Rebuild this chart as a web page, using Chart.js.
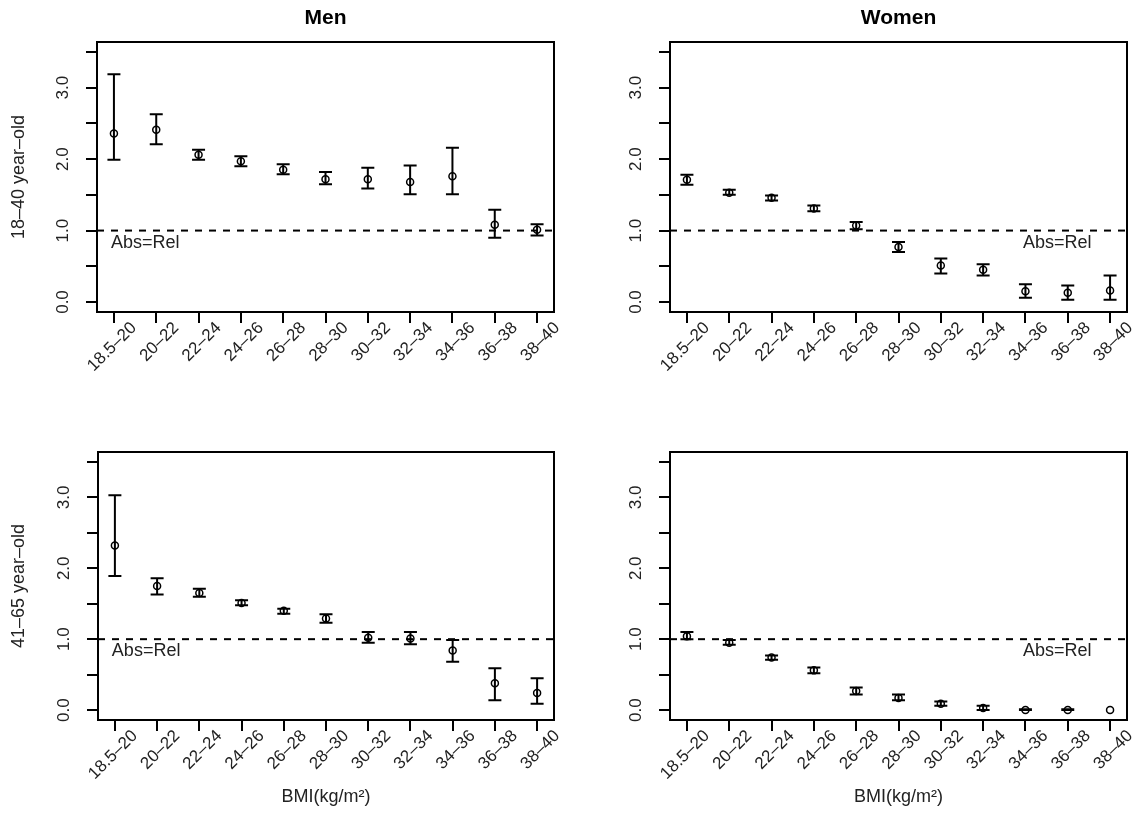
<!DOCTYPE html>
<html>
<head>
<meta charset="utf-8">
<script src="https://cdn.jsdelivr.net/npm/chart.js@4.4.1/dist/chart.umd.min.js"></script>
<style>
    html, body { margin: 0; padding: 0; background: #fff; }
    #wrap { position: relative; width: 1138px; height: 813px; overflow: hidden; }
    .panel { position: absolute; }
</style>
</head>
<body>
<div id="wrap">
    <div class="panel" style="left:0;top:0"><canvas id="menYoung" width="569" height="406"></canvas></div>
    <div class="panel" style="left:569px;top:0"><canvas id="womenYoung" width="569" height="406"></canvas></div>
    <div class="panel" style="left:0;top:406px"><canvas id="menOld" width="569" height="407"></canvas></div>
    <div class="panel" style="left:569px;top:406px"><canvas id="womenOld" width="569" height="407"></canvas></div>
</div>
<script>
// BMI groups on the x axis
const bmiGroups = ['18.5–20', '20–22', '22–24', '24–26', '26–28', '28–30', '30–32', '32–34', '34–36', '36–38', '38–40'];

// y axis ticks (labels only on whole numbers)
const yTickValues = [0, 0.5, 1, 1.5, 2, 2.5, 3, 3.5];
const yTickLabels = ['0.0', '', '1.0', '', '2.0', '', '3.0', ''];

// Men, 18–40 year-old
const menYoungRatio = [2.36, 2.41, 2.06, 1.97, 1.85, 1.72, 1.72, 1.68, 1.76, 1.08, 1.01];
const menYoungLower = [1.99, 2.21, 1.99, 1.90, 1.79, 1.65, 1.59, 1.51, 1.51, 0.90, 0.93];
const menYoungUpper = [3.19, 2.63, 2.13, 2.04, 1.93, 1.82, 1.88, 1.91, 2.16, 1.29, 1.09];

// Women, 18–40 year-old
const womenYoungRatio = [1.71, 1.53, 1.46, 1.31, 1.07, 0.77, 0.51, 0.45, 0.15, 0.13, 0.16];
const womenYoungLower = [1.64, 1.50, 1.42, 1.27, 1.02, 0.70, 0.40, 0.37, 0.06, 0.03, 0.03];
const womenYoungUpper = [1.78, 1.57, 1.49, 1.35, 1.12, 0.84, 0.61, 0.53, 0.25, 0.23, 0.37];

// Men, 41–65 year-old
const menOldRatio = [2.32, 1.75, 1.65, 1.51, 1.40, 1.29, 1.02, 1.01, 0.84, 0.38, 0.24];
const menOldLower = [1.89, 1.63, 1.60, 1.48, 1.36, 1.23, 0.95, 0.93, 0.68, 0.14, 0.09];
const menOldUpper = [3.03, 1.86, 1.71, 1.55, 1.43, 1.35, 1.10, 1.10, 0.99, 0.59, 0.45];

// Women, 41–65 year-old
const womenOldRatio = [1.04, 0.95, 0.74, 0.56, 0.27, 0.17, 0.09, 0.03, 0.00, 0.00, 0.00];
const womenOldLower = [1.00, 0.92, 0.71, 0.52, 0.22, 0.14, 0.06, 0.00, 0.00, 0.00, 0.00];
const womenOldUpper = [1.10, 0.99, 0.77, 0.60, 0.32, 0.22, 0.12, 0.06, 0.01, 0.01, 0.00];

const FONT = 'Liberation Sans, Arial, Helvetica, sans-serif';
const INK = '#000';
const TEXT = '#222';

Chart.defaults.font.family = FONT;
Chart.defaults.color = TEXT;

// Vertical error bars with caps
const errorBars = {
    id: 'errorBars',
    afterDatasetsDraw(chart, args, opts) {
        const { ctx, scales: { x, y } } = chart;
        ctx.save();
        ctx.strokeStyle = INK;
        ctx.lineWidth = 2;
        opts.lower.forEach((lo, i) => {
            const hi = opts.upper[i];
            if (hi <= lo) return;
            const px = x.getPixelForValue(i + 1);
            const pLo = y.getPixelForValue(lo);
            const pHi = y.getPixelForValue(hi);
            ctx.beginPath();
            ctx.moveTo(px, pLo); ctx.lineTo(px, pHi);
            ctx.moveTo(px - 6.5, pLo); ctx.lineTo(px + 6.5, pLo);
            ctx.moveTo(px - 6.5, pHi); ctx.lineTo(px + 6.5, pHi);
            ctx.stroke();
        });
        ctx.restore();
    }
};

// Dashed Abs=Rel reference line and its label
const refLine = {
    id: 'refLine',
    beforeDatasetsDraw(chart, args, opts) {
        const { ctx, chartArea, scales: { x, y } } = chart;
        const py = y.getPixelForValue(opts.value);
        ctx.save();
        ctx.strokeStyle = INK;
        ctx.lineWidth = 2;
        ctx.setLineDash([7, 7]);
        ctx.beginPath();
        ctx.moveTo(chartArea.left, py);
        ctx.lineTo(chartArea.right, py);
        ctx.stroke();
        ctx.setLineDash([]);
        ctx.fillStyle = TEXT;
        ctx.font = '18px ' + FONT;
        ctx.textAlign = 'center';
        ctx.textBaseline = 'alphabetic';
        ctx.fillText(opts.label, x.getPixelForValue(opts.labelX), y.getPixelForValue(opts.labelY));
        ctx.restore();
    }
};

// Box around the plotting region
const frame = {
    id: 'frame',
    afterDatasetsDraw(chart) {
        const { ctx, chartArea: a } = chart;
        ctx.save();
        ctx.strokeStyle = INK;
        ctx.lineWidth = 2;
        ctx.strokeRect(a.left, a.top, a.right - a.left, a.bottom - a.top);
        ctx.restore();
    }
};

function makePanel(id, p) {
    const ctx = document.getElementById(id).getContext('2d');
    return new Chart(ctx, {
        type: 'scatter',
        data: {
            datasets: [{
                data: p.ratio.map((v, i) => ({ x: i + 1, y: v })),
                showLine: false,
                pointStyle: 'circle',
                pointRadius: 3.5,
                pointHoverRadius: 3.5,
                pointBorderWidth: 1.5,
                pointBorderColor: INK,
                pointBackgroundColor: 'rgba(0,0,0,0)'
            }]
        },
        options: {
            responsive: false,
            animation: false,
            devicePixelRatio: 1,
            layout: { padding: { left: 0, right: p.padRight, top: p.padTop, bottom: 0 } },
            plugins: {
                legend: { display: false },
                tooltip: { enabled: false },
                title: {
                    display: !!p.title,
                    text: p.title,
                    fullSize: false,
                    color: INK,
                    font: { size: 21, weight: 'bold' },
                    padding: { top: 6, bottom: 10.8 }
                },
                errorBars: { lower: p.lower, upper: p.upper },
                refLine: { value: 1, label: 'Abs=Rel', labelX: p.labelX, labelY: 0.76 }
            },
            scales: {
                x: {
                    type: 'linear',
                    min: 0.6,
                    max: 11.4,
                    afterBuildTicks: s => { s.ticks = bmiGroups.map((_, i) => ({ value: i + 1 })); },
                    afterFit: s => { s.height = p.xAxisHeight; },
                    ticks: {
                        callback: (v, i) => bmiGroups[i],
                        autoSkip: false,
                        minRotation: 45,
                        maxRotation: 45,
                        labelOffset: 20,
                        padding: -5,
                        font: { size: 17 }
                    },
                    grid: { drawOnChartArea: false, tickLength: 11, color: INK, lineWidth: 2 },
                    border: { display: false },
                    title: {
                        display: !!p.xTitle,
                        text: p.xTitle,
                        color: TEXT,
                        font: { size: 18 },
                        padding: { top: 0, bottom: 5.5 }
                    }
                },
                y: {
                    min: -0.14,
                    max: 3.64,
                    afterBuildTicks: s => { s.ticks = yTickValues.map(v => ({ value: v })); },
                    afterFit: s => { s.width = p.yAxisWidth; },
                    ticks: {
                        callback: (v, i) => yTickLabels[i],
                        autoSkip: false,
                        minRotation: 90,
                        maxRotation: 90,
                        crossAlign: 'center',
                        padding: 11,
                        font: { size: 17 }
                    },
                    grid: { drawOnChartArea: false, tickLength: 11, color: INK, lineWidth: 2 },
                    border: { display: false },
                    title: {
                        display: !!p.yTitle,
                        text: p.yTitle,
                        color: TEXT,
                        font: { size: 18 },
                        padding: { top: 8, bottom: 0 }
                    }
                }
            }
        },
        plugins: [refLine, errorBars, frame]
    });
}

makePanel('menYoung', {
    ratio: menYoungRatio, lower: menYoungLower, upper: menYoungUpper,
    title: 'Men', yTitle: '18–40 year–old', xTitle: '',
    padTop: 0, padRight: 15, yAxisWidth: 97, xAxisHeight: 94, labelX: 1.74
});
makePanel('womenYoung', {
    ratio: womenYoungRatio, lower: womenYoungLower, upper: womenYoungUpper,
    title: 'Women', yTitle: '', xTitle: '',
    padTop: 0, padRight: 11, yAxisWidth: 101, xAxisHeight: 94, labelX: 9.75
});
makePanel('menOld', {
    ratio: menOldRatio, lower: menOldLower, upper: menOldUpper,
    title: '', yTitle: '41–65 year–old', xTitle: 'BMI(kg/m²)',
    padTop: 46, padRight: 15, yAxisWidth: 98, xAxisHeight: 93, labelX: 1.74
});
makePanel('womenOld', {
    ratio: womenOldRatio, lower: womenOldLower, upper: womenOldUpper,
    title: '', yTitle: '', xTitle: 'BMI(kg/m²)',
    padTop: 46, padRight: 11, yAxisWidth: 101, xAxisHeight: 93, labelX: 9.75
});
</script>
</body>
</html>
